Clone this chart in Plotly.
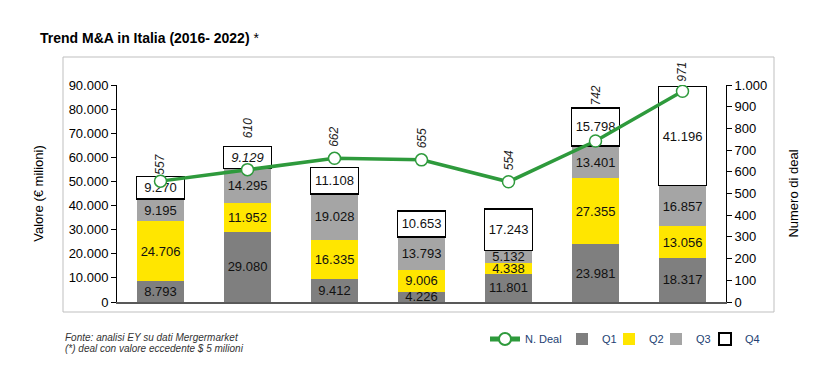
import plotly.graph_objects as go

years = ["2016", "2017", "2018", "2019", "2020", "2021", "2022"]
q1 = [8793, 29080, 9412, 4226, 11801, 23981, 18317]
q2 = [24706, 11952, 16335, 9006, 4338, 27355, 13056]
q3 = [9195, 14295, 19028, 13793, 5132, 13401, 16857]
q4 = [9270, 9129, 11108, 10653, 17243, 15798, 41196]
n_deal = [557, 610, 662, 655, 554, 742, 971]

left_ticks = [0, 10000, 20000, 30000, 40000, 50000, 60000, 70000, 80000, 90000]
right_ticks = [0, 100, 200, 300, 400, 500, 600, 700, 800, 900, 1000]

# label offsets (px) above line markers
deal_label_shift = [17, 41, 21, 21, 21, 45, 19]
italic_q4 = [False, True, False, False, False, False, False]

W, H = 835, 365
PL, PR, PT, PB = 117, 726, 85, 302  # plot area in pixels

# legend left positions (px) for each entry
legend_x = [485, 562, 609, 656, 705]


def fmt(v):
    return f"{v:,}".replace(",", ".")


def px(x):
    return (x - PL) / (PR - PL)


def py(y):
    return (PB - y) / (PB - PT)


FONT = "Liberation Sans, Arial, sans-serif"
GREEN = "#2E9A3C"
legend_ids = ["legend", "legend2", "legend3", "legend4", "legend5"]

fig = go.Figure()

fig.add_trace(go.Scatter(
    x=years, y=n_deal, name="N. Deal", yaxis="y2", mode="lines+markers",
    line=dict(color=GREEN, width=3.5),
    marker=dict(size=12, color="#FFFFFF", line=dict(color=GREEN, width=1.5)),
    hoverinfo="skip", legend=legend_ids[0], showlegend=True,
))

for k, (name, vals, color, line) in enumerate([
    ("Q1", q1, "#7F7F7F", dict(width=0)),
    ("Q2", q2, "#FFE600", dict(width=0)),
    ("Q3", q3, "#A5A5A5", dict(width=0)),
    ("Q4", q4, "#FFFFFF", dict(width=1.5, color="#000000")),
]):
    if name == "Q4":
        texts = [f"<i>{fmt(v)}</i>" if it else fmt(v) for v, it in zip(vals, italic_q4)]
    else:
        texts = [fmt(v) for v in vals]
    fig.add_trace(go.Bar(
        x=years, y=vals, name=name,
        marker=dict(color=color, line=line),
        text=texts, textposition="inside", insidetextanchor="middle",
        textfont=dict(size=13, color="#111111", family=FONT),
        yaxis="y", hoverinfo="skip", legend=legend_ids[k + 1], showlegend=True,
    ))

annotations = []
for i, (v, s) in enumerate(zip(n_deal, deal_label_shift)):
    annotations.append(dict(
        x=i, y=v, xref="x", yref="y2", text=f"<i>{v}</i>", textangle=-90,
        showarrow=False, yshift=s, font=dict(size=12, color="#222222", family=FONT),
    ))

for txt, yy in [("<i>Fonte: analisi EY su dati Mergermarket</i>", 337),
                ("<i>(*) deal con valore eccedente $ 5 milioni</i>", 348)]:
    annotations.append(dict(
        x=px(63), y=py(yy), xref="paper", yref="paper", xanchor="left", yanchor="middle",
        text=txt, showarrow=False, font=dict(size=10, color="#333333", family=FONT),
    ))

legend_style = dict(
    orientation="h", traceorder="normal", xref="container", xanchor="left",
    y=1 - 339 / H, yref="container", yanchor="middle",
    font=dict(size=11, color="#243F73", family=FONT),
    itemsizing="constant", bgcolor="rgba(0,0,0,0)", itemwidth=30,
)

legends = {lid: dict(legend_style, x=lx / W) for lid, lx in zip(legend_ids, legend_x)}

fig.update_layout(
    width=W, height=H,
    margin=dict(l=PL, r=W - PR, t=PT, b=H - PB, pad=0),
    paper_bgcolor="#FFFFFF", plot_bgcolor="#FFFFFF",
    barmode="stack", bargap=0.45,
    separators=",.", showlegend=True,
    font=dict(family=FONT, size=13, color="#000000"),
    title=dict(
        text="<b>Trend M&A in Italia (2016- 2022)</b> *",
        x=40 / W, xanchor="left", xref="container",
        y=1 - 38 / H, yanchor="middle", yref="container",
        font=dict(size=14, color="#000000", family=FONT),
    ),
    xaxis=dict(
        type="category", categoryorder="array", categoryarray=years,
        range=[-0.5, len(years) - 0.5],
        showticklabels=False, showline=True, linecolor="#595959", linewidth=2,
        ticks="", showgrid=False, zeroline=False,
    ),
    yaxis=dict(
        range=[0, 90000], tickvals=left_ticks, tickformat=",.0f",
        showline=True, linecolor="#000000", linewidth=1,
        ticks="outside", ticklen=5, tickcolor="#000000",
        showgrid=False, zeroline=False,
        tickfont=dict(size=13, color="#000000"),
        title=dict(text="Valore (€ milioni)", standoff=22, font=dict(size=13)),
    ),
    yaxis2=dict(
        range=[0, 1000], tickvals=right_ticks, tickformat=",.0f",
        overlaying="y", side="right",
        showline=True, linecolor="#000000", linewidth=1,
        ticks="outside", ticklen=5, tickcolor="#000000",
        showgrid=False, zeroline=False,
        tickfont=dict(size=13, color="#000000"),
        title=dict(text="Numero di deal", standoff=22, font=dict(size=13)),
    ),
    uniformtext=dict(minsize=13, mode="show"),
    annotations=annotations,
    shapes=[dict(
        type="rect", xref="paper", yref="paper",
        x0=px(63), x1=px(774), y0=py(312), y1=py(57),
        line=dict(color="#BFBFBF", width=1), fillcolor="rgba(0,0,0,0)", layer="below",
    )],
    **legends,
)

fig.write_html("out.html", config={"displayModeBar": False},
               post_script="document.body.style.margin='0';")
